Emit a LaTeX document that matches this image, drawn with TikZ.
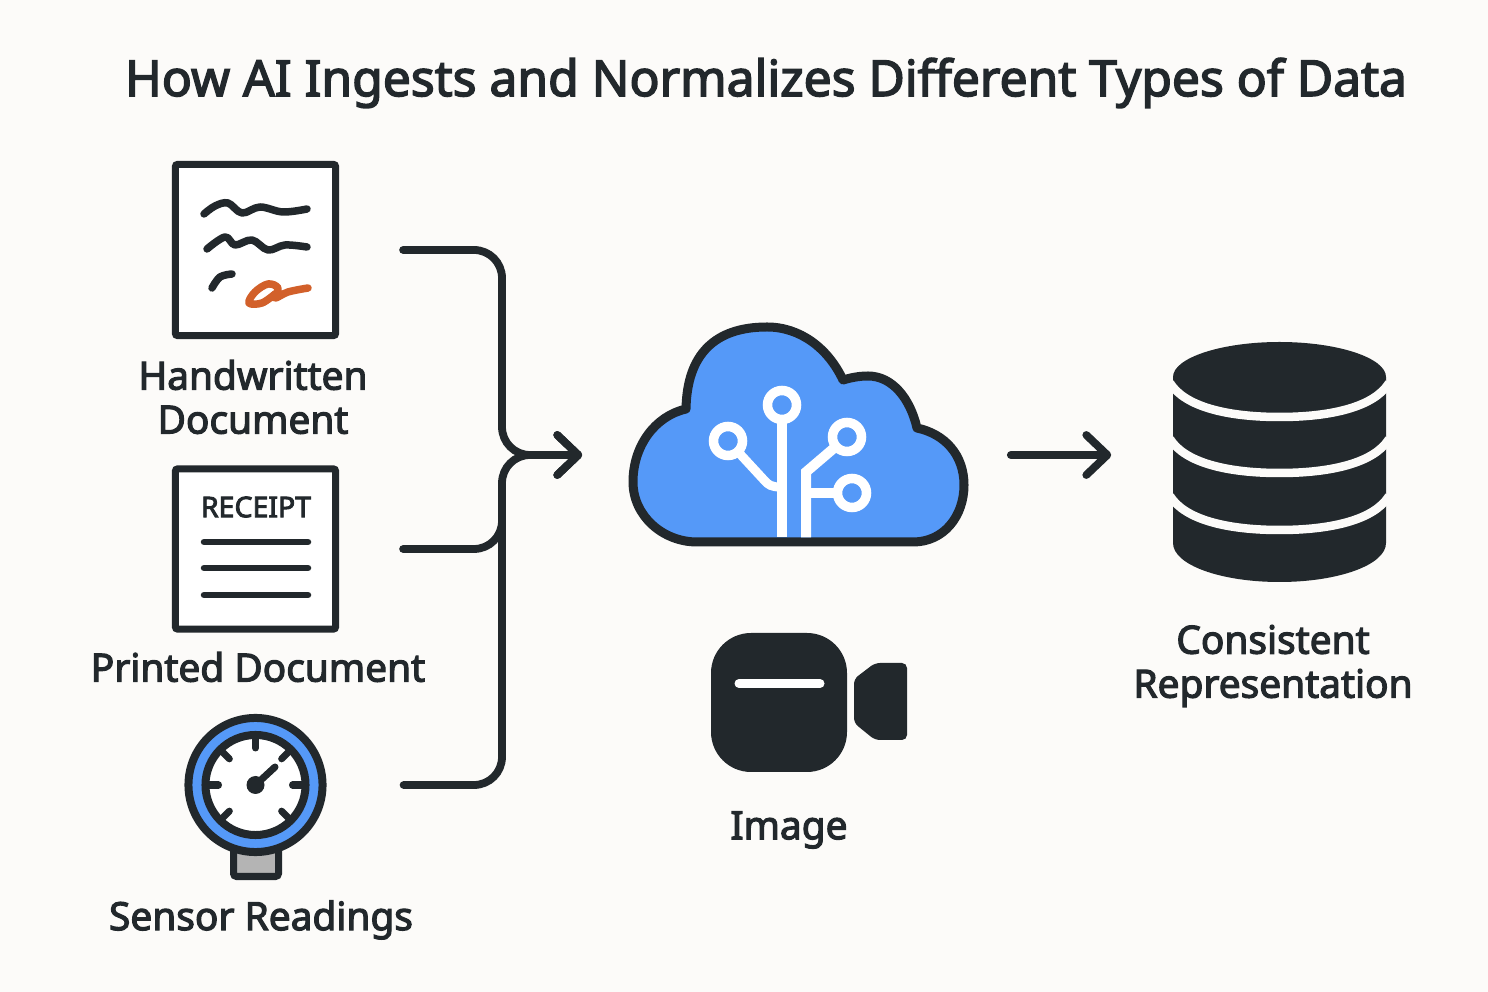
\documentclass[tikz,border=0pt]{standalone}
\usepackage{fontspec}
\setmainfont[RawFeature={embolden=3}]{Noto Sans}
\usepackage{tikz}
\usetikzlibrary{calc,arrows.meta}
\definecolor{inkdark}{HTML}{22282C}
\definecolor{cloudblue}{HTML}{5599F8}
\definecolor{pagebg}{HTML}{FCFBF9}
\definecolor{penorange}{HTML}{D2602A}
\definecolor{basegrey}{HTML}{B4B4B4}
\tikzset{
    wire/.style={draw=inkdark, line width=0.078cm, line cap=round, rounded corners=0.28cm},
    barb/.style={-{Straight Barb[round, length=0.21cm, width=0.4cm]}},
    sheet/.style={draw=inkdark, fill=white, line width=0.07cm, rounded corners=0.02cm, inner sep=0pt, minimum width=1.6cm},
    scribble/.style={draw=inkdark, line width=0.075cm, line cap=round, line join=round},
    rule/.style={draw=inkdark, line width=0.065cm, line cap=round},
    tick/.style={draw=inkdark, line width=0.07cm, line cap=round},
    trace/.style={draw=white, line width=0.1cm},
    pad/.style={draw=white, line width=0.095cm, fill=cloudblue},
    gap/.style={draw=pagebg, line width=0.085cm},
    caption/.style={text=inkdark, align=center, font=\fontsize{11.05}{12.5}\selectfont},
}
\begin{document}
\begin{tikzpicture}[x=0.01cm, y=-0.01cm]
        \useasboundingbox (0,0) rectangle (1488,992);
        \fill[pagebg] (0,0) rectangle (1488,992);

        \coordinate (bus) at (502,455);

        \node[text=inkdark, font=\fontsize{14.15}{16}\selectfont] (Title) at (766,83) {How AI Ingests and Normalizes Different Types of Data};

        \node[sheet, minimum height=1.71cm] (Hand) at (255.5,250) {};
        \node[caption] (HandLabel) at (253,397) {Handwritten\\Document};
        \path[scribble] plot[smooth, tension=0.6] coordinates {(204,214) (215,206) (228,203) (242,213) (260,207) (283,212) (307,209)};
        \path[scribble] plot[smooth, tension=0.6] coordinates {(207,249) (225,237) (235,245) (252,240) (268,250) (285,245) (307,247)};
        \path[scribble] plot[smooth, tension=0.6] coordinates {(212,288) (220,277) (232,274)};
        \path[scribble, draw=penorange] plot[smooth, tension=0.6] coordinates {(308,288) (288,292) (275,298) (278,288) (268,284) (255,292) (249,303) (262,303) (275,294)};

        \node[sheet, minimum height=1.6cm] (Print) at (255.5,549) {};
        \node[text=inkdark, font=\fontsize{8.1}{10}\selectfont] (Receipt) at (256,507) {RECEIPT};
        \foreach \y in {542,568,595}
            \path[rule] (204,\y) -- (308,\y);
        \node[caption] (PrintLabel) at (258,667) {Printed Document};

        \path[draw=inkdark, fill=basegrey, line width=0.07cm, rounded corners=0.03cm] (233.5,845) rectangle (278.5,876.5);
        \node[circle, draw=inkdark, fill=cloudblue, line width=0.08cm, minimum size=1.34cm, inner sep=0pt] (Gauge) at (255.5,785) {};
        \node[circle, draw=inkdark, fill=white, line width=0.08cm, minimum size=1.0cm, inner sep=0pt] (Dial) at (Gauge) {};
        \foreach \a in {0,45,135,180,225,270,315}
            \path[tick] ($(Dial)+(\a:46)$) -- ($(Dial)+(\a:37)$);
        \path[tick] (Dial.center) -- (275,767);
        \fill[inkdark] (Dial.center) circle[radius=9];
        \node[caption] (GaugeLabel) at (261,920) {Sensor Readings};

        \node[minimum width=3.4cm, minimum height=2.2cm, inner sep=0pt] (Cloud) at (798,455) {};
        \path[draw=inkdark, fill=cloudblue, line width=0.09cm, line join=round] (697,542) -- (913,542)
            .. controls (944,542) and (964,516) .. (964,485)
            .. controls (964,455) and (945,434) .. (917,428)
            .. controls (910,398) and (892,376) .. (868,376)
            .. controls (858,376) and (850,378) .. (843,380)
            .. controls (828,348) and (800,327) .. (767,327)
            .. controls (715,327) and (687,354) .. (686,409)
            .. controls (655,416) and (633,446) .. (633,482)
            .. controls (633,516) and (663,542) .. (697,542) -- cycle;
        \path[trace] (782,405) -- (782,537.5);
        \path[trace, line width=0.09cm] (728,441) -- (764,480) .. controls (768,485) and (772,487) .. (780,487);
        \path[trace] (847,437) -- (806,472) -- (806,537.5);
        \path[trace] (806,493) -- (852,493);
        \path[pad] (782,405) circle[radius=14.5];
        \path[pad] (728,441) circle[radius=14.5];
        \path[pad] (847,437) circle[radius=14.5];
        \path[pad] (852,493) circle[radius=14.5];

        \path[fill=inkdark, rounded corners=0.4cm] (711,633) rectangle (847,772);
        \path[rule, draw=white, line width=0.09cm] (739,683.5) -- (820,683.5);
        \path[fill=inkdark, rounded corners=0.05cm] (854,679) -- (875,663) -- (907,663) -- (907,740) -- (875,740) -- (854,723) -- cycle;
        \node[caption] (CameraLabel) at (789,830) {Image};

        \node[minimum width=2.13cm, minimum height=2.4cm, inner sep=0pt] (Store) at (1279.5,455) {};
        \fill[inkdark] (1173,377) .. controls (1173,358) and (1221,342) .. (1279.5,342)
            .. controls (1338,342) and (1386,358) .. (1386,377) -- (1386,543)
            .. controls (1386,565) and (1338,582) .. (1279.5,582)
            .. controls (1221,582) and (1173,565) .. (1173,543) -- cycle;
        \foreach \y in {383,439,496}
            \path[gap] (1170,\y) .. controls (1185,{\y+24}) and (1228,{\y+34}) .. (1279.5,{\y+34})
                .. controls (1331,{\y+34}) and (1374,{\y+24}) .. (1389,\y);
        \node[caption] (StoreLabel) at (1273,666) {Consistent\\Representation};

        \path[wire, barb, shorten <=0.64cm, shorten >=0.45cm] (Hand.east) -| (bus) -- (Cloud.west);
        \path[wire, shorten <=0.64cm, shorten >=0.4cm] (Print.east) -| (bus);
        \path[wire, barb, shorten <=0.77cm, shorten >=0.45cm] (Gauge.east) -| (bus) -- (Cloud.west);
        \path[wire, barb, shorten <=0.42cm, shorten >=0.61cm] (Cloud.east) -- (Store.west);
    \end{tikzpicture}
\end{document}
